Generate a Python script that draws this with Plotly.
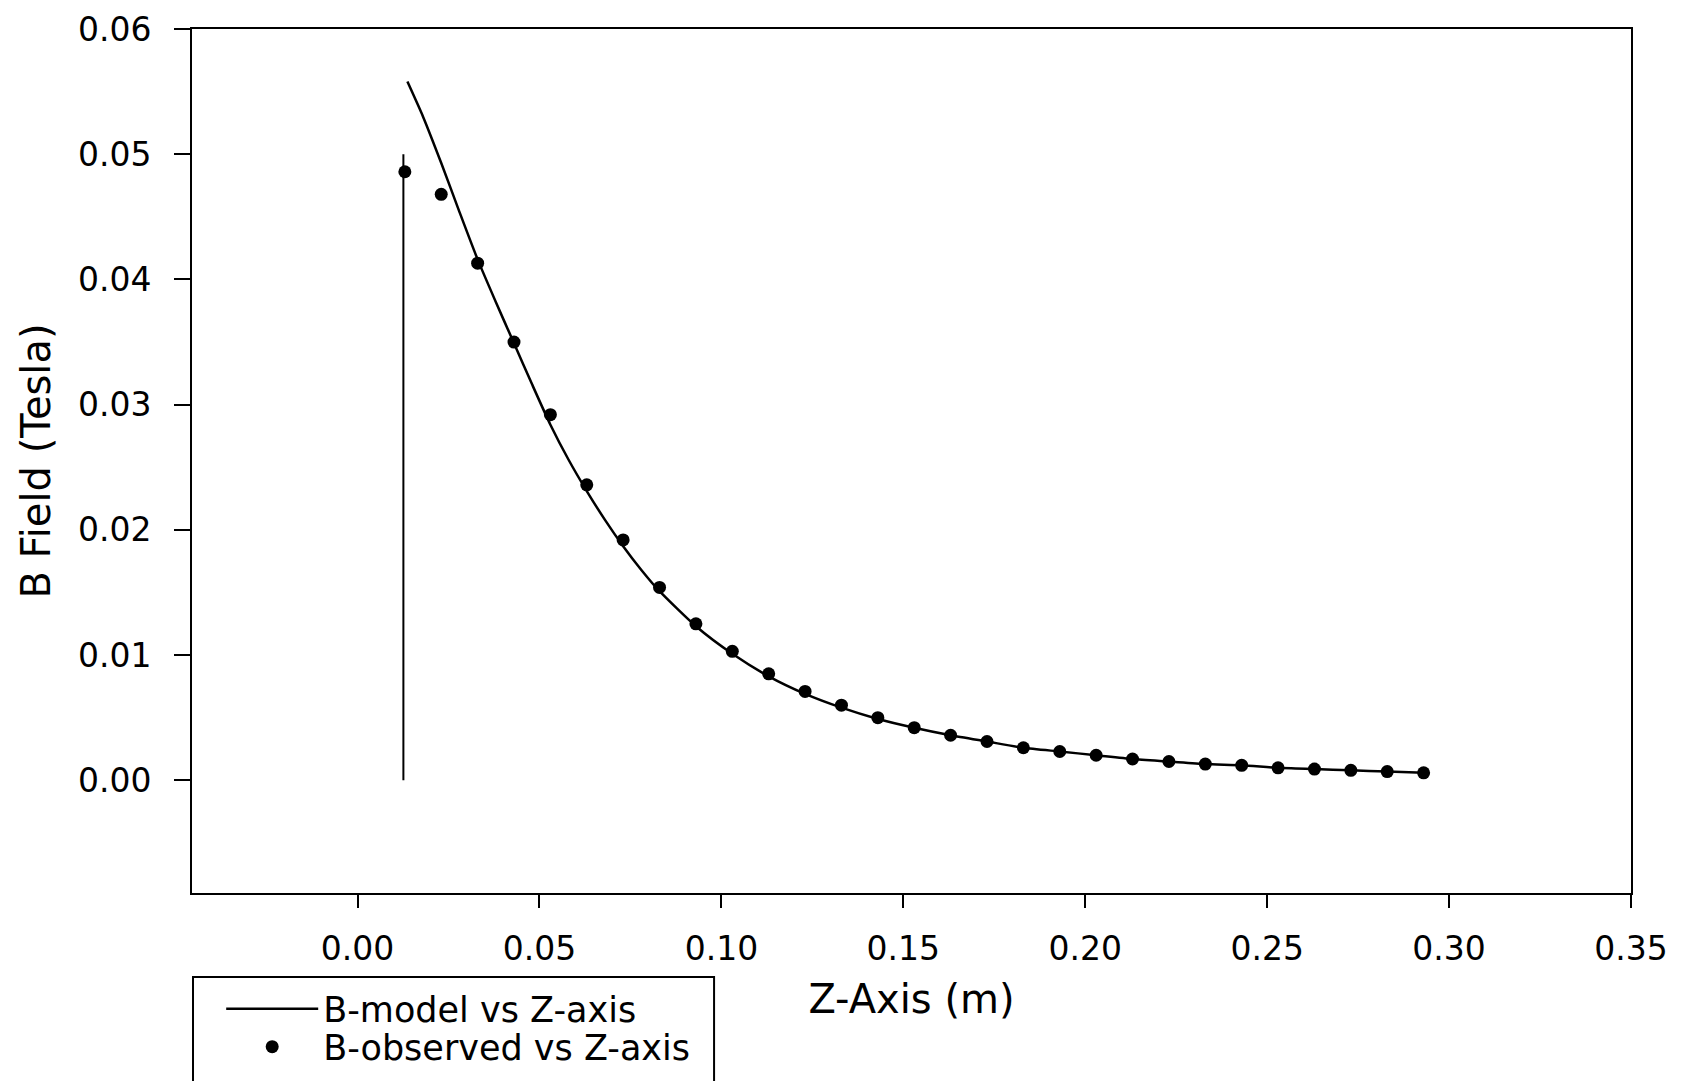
import plotly.graph_objects as go

# Observed data (Z in m, B in Tesla)
z_obs = [0.013, 0.023, 0.033, 0.043, 0.053, 0.063, 0.073, 0.083, 0.093, 0.103,
         0.113, 0.123, 0.133, 0.143, 0.153, 0.163, 0.173, 0.183, 0.193, 0.203,
         0.213, 0.223, 0.233, 0.243, 0.253, 0.263, 0.273, 0.283, 0.293]
b_obs = [0.0486, 0.0468, 0.0413, 0.0350, 0.0292, 0.0236, 0.0192, 0.0154, 0.0125, 0.0103,
         0.0085, 0.0071, 0.0060, 0.0050, 0.0042, 0.0036, 0.0031, 0.0026, 0.0023, 0.0020,
         0.0017, 0.0015, 0.0013, 0.0012, 0.0010, 0.0009, 0.0008, 0.0007, 0.0006]

# Model curve
z_model = [0.0137, 0.018, 0.023, 0.028, 0.033, 0.038, 0.043, 0.048, 0.053, 0.058,
           0.063, 0.068, 0.073, 0.078, 0.083, 0.093, 0.103,
           0.113, 0.123, 0.133, 0.143, 0.153, 0.163, 0.173, 0.183, 0.193, 0.203,
           0.213, 0.223, 0.233, 0.243, 0.253, 0.263, 0.273, 0.283, 0.293]
b_model = [0.0558, 0.0530, 0.0493, 0.0454, 0.0416, 0.0382, 0.0349, 0.0316, 0.0284, 0.0256,
           0.0231, 0.0208, 0.0187, 0.0168, 0.0151, 0.0123, 0.0101,
           0.0083, 0.0069, 0.0058, 0.0049, 0.0042, 0.0036, 0.0031, 0.0026, 0.0023, 0.0020,
           0.0017, 0.0015, 0.0013, 0.0012, 0.0010, 0.0009, 0.0008, 0.0007, 0.0006]

# Vertical drop line
z_vline = [0.0126, 0.0126]
b_vline = [0.0, 0.050]

x_ticks = [0.00, 0.05, 0.10, 0.15, 0.20, 0.25, 0.30, 0.35]
y_ticks = [0.00, 0.01, 0.02, 0.03, 0.04, 0.05, 0.06]

FONT = "DejaVu Sans"

fig = go.Figure()
fig.add_trace(go.Scatter(x=z_model, y=b_model, mode="lines", name="B-model vs Z-axis",
                         legend="legend",
                         line=dict(color="black", width=2.5, shape="spline", smoothing=0.6)))
fig.add_trace(go.Scatter(x=z_obs, y=b_obs, mode="markers", name="B-observed vs Z-axis",
                         legend="legend2",
                         marker=dict(color="black", size=13, symbol="circle")))
fig.add_trace(go.Scatter(x=z_vline, y=b_vline, mode="lines", showlegend=False,
                         line=dict(color="black", width=2)))

# legend frame (extends past the bottom edge like the reference)
fig.add_shape(type="rect", xref="paper", yref="paper",
              x0=0.0007, x1=0.3628, y0=-0.26, y1=-0.0972,
              line=dict(color="black", width=2), fillcolor="rgba(0,0,0,0)", layer="above")

leg_common = dict(xanchor="left", yanchor="middle", borderwidth=0, bgcolor="rgba(0,0,0,0)",
                  font=dict(family=FONT, size=35, color="black"),
                  itemwidth=92, indentation=22, tracegroupgap=0)

fig.update_layout(
    width=1682, height=1081,
    margin=dict(l=192, r=51, t=29, b=188, autoexpand=False),
    paper_bgcolor="white", plot_bgcolor="white",
    font=dict(family=FONT, color="black"),
    showlegend=True,
    legend=dict(x=0.005, y=-0.1343, **leg_common),
    legend2=dict(x=0.005, y=-0.1782, **leg_common),
)
fig.update_xaxes(
    range=[-0.0455, 0.35], tickvals=x_ticks, tickformat=".2f",
    showline=True, linecolor="black", linewidth=2, mirror=True,
    ticks="outside", ticklen=13, tickwidth=2, tickcolor="black",
    showgrid=False, zeroline=False, automargin=False,
    tickfont=dict(family=FONT, size=33, color="black"), ticklabelstandoff=12,
    title=dict(text="Z-Axis (m)", font=dict(family=FONT, size=40, color="black"), standoff=18),
)
fig.update_yaxes(
    range=[-0.009, 0.06], tickvals=y_ticks, tickformat=".2f",
    showline=True, linecolor="black", linewidth=2, mirror=True,
    ticks="outside", ticklen=16, tickwidth=2, tickcolor="black",
    showgrid=False, zeroline=False, automargin=False,
    tickfont=dict(family=FONT, size=33, color="black"), ticklabelstandoff=16,
    title=dict(text="B Field (Tesla)", font=dict(family=FONT, size=40, color="black"), standoff=15),
)

fig.write_html("out.html")
